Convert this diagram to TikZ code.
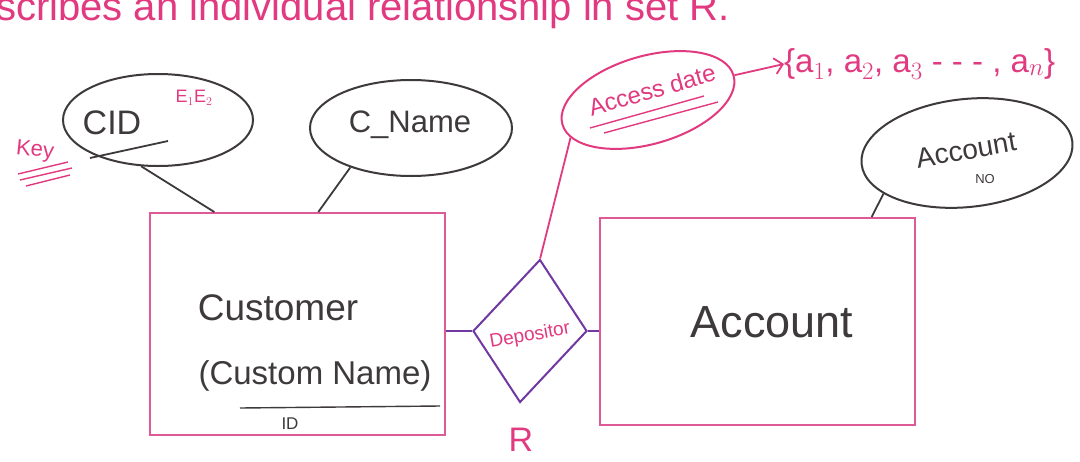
\documentclass[tikz,border=0pt]{standalone}
\usepackage{fontspec}
\setmainfont{Liberation Sans}
\usetikzlibrary{shapes.geometric,calc,arrows.meta}
\definecolor{inkpink}{RGB}{226,58,128}
\definecolor{boxpink}{RGB}{222,90,150}
\definecolor{inkgray}{RGB}{62,58,60}
\definecolor{inkpurple}{RGB}{112,56,160}
\tikzset{
  attr/.style={ellipse,draw=inkgray,line width=2pt,inner sep=0pt},
  pattr/.style={ellipse,draw=inkpink,line width=2pt,inner sep=0pt},
  ent/.style={rectangle,draw=boxpink,line width=2pt,inner sep=0pt},
  rel/.style={diamond,draw=inkpurple,line width=2pt,inner sep=0pt},
  gtext/.style={text=inkgray,inner sep=0pt},
  ptext/.style={text=inkpink,inner sep=0pt},
  gline/.style={draw=inkgray,line width=1.8pt},
  pline/.style={draw=inkpink,line width=1.8pt},
  vline/.style={draw=inkpurple,line width=1.8pt},
}
\begin{document}
\begin{tikzpicture}[x=1pt,y=-1pt]
\useasboundingbox (0,0) rectangle (1080,461);
\fill[white] (0,0) rectangle (1080,461);
% partly cut heading
\node[ptext,anchor=base west] (head) at (-4,20) {\fontsize{40}{42}\selectfont scribes an individual relationship in set R.};
% attributes
\node[attr,minimum width=190,minimum height=92] (cid) at (158,120) {};
\node[gtext] (cidt) at (112,123) {\fontsize{34}{36}\selectfont CID};
\draw[gline] (90,158) -- (168,141);
\node[ptext] (e12) at (194,98) {\fontsize{18}{20}\selectfont E$_1$E$_2$};
\node[ptext,rotate=-6] (key) at (35,151) {\fontsize{22}{24}\selectfont Key};
\draw[pline,line width=1.4pt] (18,174) -- (68,162);
\draw[pline,line width=1.4pt] (20,180) -- (72,168);
\draw[pline,line width=1.4pt] (26,186) -- (70,175);

\node[attr,minimum width=202,minimum height=96] (cname) at (411,128) {};
\node[gtext] (cnamet) at (410,125) {\fontsize{31}{33}\selectfont C\_Name};

\node[attr,minimum width=212,minimum height=108,rotate=6] (accno) at (967,153) {};
\node[gtext,rotate=10] (accnot) at (966,150) {\fontsize{28}{30}\selectfont Account};
\node[gtext] (no) at (985,179) {\fontsize{13}{14}\selectfont NO};

\node[pattr,minimum width=178,minimum height=88,rotate=16] (acc) at (648,100) {};
\node[ptext,rotate=16] (acct) at (652,90) {\fontsize{24}{26}\selectfont Access date};
\draw[pline,line width=1.4pt] (590,128) -- (704,96);
\draw[pline,line width=1.4pt] (604,133) -- (718,102);
\node[ptext,anchor=west] (set) at (784,64) {\fontsize{33}{35}\selectfont \{a$_1$, a$_2$, a$_3$ - - - , a$_n$\}};
\draw[pline,-{Straight Barb[length=8pt]}] (acc.east) -- (set.west);

% entities
\node[ent,minimum width=295,minimum height=222] (cust) at (297.5,324) {};
\node[gtext] (custt) at (278,308) {\fontsize{37}{39}\selectfont Customer};
\node[gtext] (custn) at (315,376) {\fontsize{33}{35}\selectfont (Custom Name)};
\draw[gline,line width=1.4pt] (240,408) -- (440,406);
\node[gtext] (id) at (290,424) {\fontsize{17}{19}\selectfont ID};

\node[ent,minimum width=315,minimum height=207] (acnt) at (757.5,321.5) {};
\node[gtext] (acntt) at (772,322) {\fontsize{45}{47}\selectfont Account};

% relationship
\node[rel,minimum width=114,minimum height=143,xslant=0.14] (dep) at (530,331) {};
\node[ptext,rotate=10] (dept) at (530,336) {\fontsize{19}{21}\selectfont Depositor};
\node[ptext] (r) at (521,440) {\fontsize{34}{36}\selectfont R};

% connectors
\draw[gline] (cid.250) -- ($(cust.north west)!0.22!(cust.north east)$);
\draw[gline] (cname.213) -- ($(cust.north west)!0.57!(cust.north east)$);
\draw[gline] (accno.200) -- ($(acnt.north west)!0.86!(acnt.north east)$);
\draw[pline] (acc.190) -- (dep.north);
\draw[vline] (dep.west) -- (dep.west -| cust.east);
\draw[vline] (dep.east) -- (dep.east -| acnt.west);
\end{tikzpicture}
\end{document}
